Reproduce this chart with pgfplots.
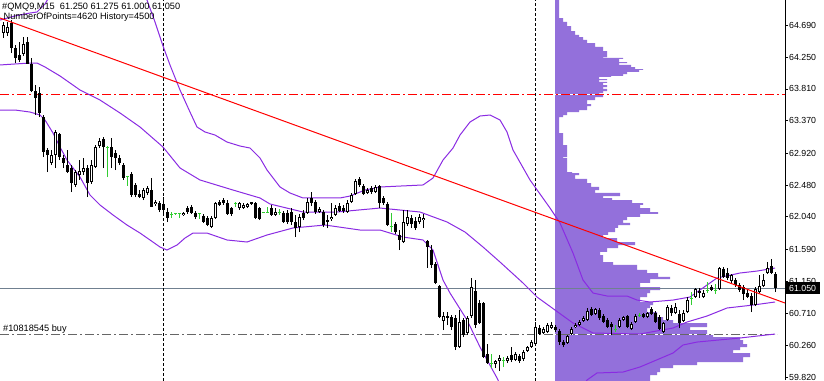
\documentclass[border=0pt]{standalone}
\usepackage{fontspec}
\setmainfont{Liberation Sans}
\usepackage{pgfplots}
\usepackage{pgfplotstable}
\pgfplotsset{compat=1.18}
\definecolor{band}{HTML}{8A2BE2}
\definecolor{prof}{HTML}{9370DB}
\definecolor{doji}{HTML}{32CD32}
\definecolor{slate}{HTML}{708090}

% bullish candles: x open high low close
\pgfplotstableread{
x o h l c
3 64.583 64.735 64.514 64.694
7 64.583 64.735 64.542 64.666
23 64.293 64.528 64.265 64.432
51 62.784 62.965 62.757 62.896
55 62.896 63.241 62.715 63.213
75 62.481 62.688 62.453 62.660
79 62.619 62.826 62.550 62.674
83 62.660 62.854 62.619 62.715
91 62.522 62.826 62.495 62.757
95 62.729 63.034 62.715 63.006
99 63.020 63.130 62.992 63.089
143 62.300 62.439 62.273 62.411
147 62.369 62.467 62.342 62.439
155 62.218 62.273 62.190 62.245
183 62.066 62.107 62.052 62.094
211 61.899 62.052 61.885 62.024
215 62.024 62.245 62.010 62.231
239 62.162 62.245 62.135 62.231
243 62.162 62.231 62.149 62.204
247 62.176 62.231 62.162 62.218
275 62.066 62.162 62.052 62.107
299 61.899 62.080 61.830 62.038
307 62.094 62.300 62.080 62.245
319 62.107 62.176 62.094 62.149
331 62.010 62.231 61.982 62.038
335 62.066 62.204 62.052 62.162
347 62.107 62.273 62.094 62.231
351 62.245 62.369 62.231 62.342
355 62.356 62.564 62.342 62.536
367 62.369 62.439 62.356 62.411
375 62.383 62.481 62.369 62.453
403 61.692 62.135 61.678 61.968
407 61.941 62.135 61.913 62.038
419 61.968 62.080 61.941 62.038
423 61.996 62.080 61.885 62.024
443 60.599 60.723 60.474 60.668
459 60.239 60.751 60.226 60.585
467 60.433 60.668 60.405 60.640
471 60.668 61.194 60.640 61.069
495 60.004 60.059 59.948 60.045
499 60.045 60.128 59.907 60.087
507 60.045 60.115 60.017 60.087
515 60.059 60.170 60.045 60.142
523 60.073 60.198 60.045 60.170
527 60.184 60.253 60.170 60.239
531 60.239 60.336 60.226 60.308
535 60.281 60.585 60.267 60.516
543 60.433 60.516 60.419 60.488
547 60.447 60.571 60.433 60.543
551 60.502 60.585 60.488 60.543
567 60.294 60.405 60.281 60.391
571 60.419 60.516 60.405 60.488
575 60.516 60.571 60.502 60.543
579 60.543 60.613 60.530 60.585
583 60.599 60.668 60.585 60.640
587 60.613 60.778 60.599 60.737
595 60.696 60.778 60.682 60.765
619 60.516 60.640 60.502 60.613
623 60.613 60.668 60.599 60.654
631 60.488 60.585 60.474 60.557
635 60.585 60.696 60.571 60.668
647 60.654 60.723 60.640 60.709
663 60.447 60.585 60.433 60.571
667 60.613 60.820 60.599 60.792
675 60.709 60.848 60.696 60.792
683 60.599 60.751 60.585 60.709
687 60.723 60.931 60.709 60.889
695 60.931 61.056 60.917 61.042
703 60.931 61.028 60.917 60.986
719 61.042 61.346 61.028 61.333
731 61.152 61.249 61.125 61.235
755 60.820 61.069 60.806 61.042
759 61.000 61.235 60.986 61.083
763 61.083 61.249 61.069 61.166
767 61.263 61.415 61.249 61.333
}\bull

% bearish candles: x open high low close
\pgfplotstableread{
x o h l c
11 64.721 64.763 64.306 64.376
15 64.376 64.418 64.168 64.237
19 64.279 64.459 64.182 64.210
27 64.459 64.528 64.155 64.155
31 64.155 64.237 63.767 63.781
35 63.781 63.864 63.449 63.684
39 63.753 63.836 63.421 63.476
43 63.421 63.449 62.868 62.937
47 62.965 62.992 62.660 62.896
59 63.186 63.200 62.826 62.868
63 62.854 62.896 62.715 62.784
67 62.757 62.965 62.646 62.660
71 62.715 62.757 62.383 62.508
87 62.715 62.757 62.314 62.508
103 63.116 63.144 62.715 63.006
111 63.006 63.130 62.715 62.868
115 62.923 62.965 62.688 62.854
119 62.854 62.896 62.757 62.784
123 62.757 62.784 62.550 62.577
131 62.633 62.660 62.314 62.342
135 62.481 62.508 62.314 62.342
139 62.356 62.411 62.300 62.314
151 62.411 62.577 62.176 62.176
159 62.231 62.259 62.107 62.135
163 62.218 62.314 62.080 62.135
167 62.107 62.162 61.968 62.024
187 62.162 62.190 62.080 62.107
191 62.176 62.204 62.080 62.094
195 62.094 62.121 62.010 62.038
203 62.052 62.080 61.954 61.968
207 62.024 62.052 61.913 61.927
219 62.245 62.273 62.190 62.204
223 62.273 62.300 62.204 62.231
227 62.231 62.273 62.066 62.080
231 62.162 62.176 62.052 62.080
251 62.245 62.245 62.204 62.218
255 62.231 62.245 62.010 62.024
259 62.162 62.176 61.996 62.010
271 62.162 62.204 62.052 62.066
283 62.094 62.121 61.954 61.968
287 62.094 62.135 61.941 61.968
291 62.107 62.162 61.927 61.968
295 61.968 62.066 61.761 61.885
303 62.094 62.135 61.996 62.024
311 62.300 62.383 62.190 62.231
315 62.245 62.273 62.080 62.107
323 62.107 62.135 61.899 61.927
327 61.996 62.066 61.885 61.968
339 62.190 62.231 62.107 62.121
343 62.162 62.204 62.094 62.121
359 62.564 62.591 62.453 62.481
363 62.467 62.495 62.342 62.356
371 62.439 62.467 62.356 62.383
379 62.467 62.481 62.162 62.231
383 62.300 62.328 62.204 62.231
387 62.218 62.245 61.913 61.927
395 61.941 61.968 61.802 61.830
399 61.789 61.858 61.581 61.720
411 62.024 62.066 61.885 61.941
415 61.982 62.038 61.858 61.885
427 61.706 61.720 61.333 61.623
431 61.581 61.651 61.333 61.374
435 61.388 61.415 61.111 61.125
439 61.083 61.097 60.640 60.654
447 60.668 60.723 60.543 60.640
451 60.654 60.682 60.474 60.516
455 60.640 60.682 60.198 60.239
463 60.613 60.640 60.377 60.405
475 61.014 61.166 60.502 60.543
479 60.848 60.889 60.557 60.571
483 60.848 60.862 60.087 60.101
487 60.142 60.281 60.004 60.018
511 60.128 60.239 60.031 60.059
519 60.115 60.142 60.017 60.045
539 60.502 60.543 60.405 60.419
555 60.516 60.543 60.447 60.474
559 60.460 60.488 60.267 60.308
563 60.308 60.336 60.239 60.267
591 60.765 60.792 60.668 60.682
599 60.751 60.778 60.613 60.640
603 60.668 60.696 60.571 60.585
607 60.613 60.640 60.502 60.516
611 60.557 60.585 60.405 60.516
627 60.668 60.682 60.502 60.516
643 60.696 60.709 60.640 60.654
651 60.765 60.792 60.682 60.696
655 60.709 60.737 60.571 60.585
659 60.654 60.682 60.474 60.488
671 60.778 60.820 60.668 60.709
679 60.696 60.751 60.502 60.571
699 61.014 61.056 60.917 60.986
711 61.069 61.097 61.014 61.028
723 61.319 61.346 61.194 61.208
727 61.263 61.333 61.166 61.194
735 61.166 61.194 61.069 61.097
739 61.097 61.125 61.000 61.028
743 61.069 61.097 60.889 60.972
747 60.986 61.028 60.917 60.931
751 60.945 60.986 60.723 60.820
771 61.360 61.457 61.249 61.263
775 61.250 61.275 61.000 61.050
}\bear

% doji candles (open = close): x open high low close
\pgfplotstableread{
x o h l c
107 63.006 63.020 62.591 63.006
127 62.605 62.605 62.467 62.605
171 62.066 62.107 62.024 62.066
175 62.080 62.080 62.066 62.080
179 62.080 62.080 62.024 62.080
199 62.080 62.080 62.010 62.080
235 62.218 62.245 62.176 62.218
263 62.094 62.107 62.094 62.094
267 62.094 62.176 62.094 62.094
279 62.107 62.149 62.066 62.107
391 61.913 62.094 61.830 61.913
491 60.017 60.142 59.948 60.017
503 60.059 60.101 59.962 60.059
615 60.488 60.543 60.447 60.488
639 60.682 60.709 60.654 60.682
691 60.917 61.000 60.820 60.917
707 61.028 61.139 60.986 61.028
715 61.028 61.111 60.972 61.028
}\doji

% volume profile outline (x = right edge of row, y = price)
\pgfplotstableread{
x y
555 65.05
559 65.05
559 64.789
563 64.789
563 64.736
567 64.736
567 64.680
571 64.680
571 64.611
575 64.611
575 64.556
579 64.556
579 64.528
583 64.528
583 64.487
587 64.487
587 64.445
595 64.445
595 64.390
603 64.390
603 64.334
607 64.334
607 64.251
603 64.251
603 64.238
623 64.238
623 64.224
619 64.224
619 64.182
627 64.182
627 64.168
619 64.168
619 64.141
631 64.141
631 64.113
635 64.113
635 64.085
643 64.085
643 64.072
639 64.072
639 64.044
627 64.044
627 64.016
623 64.016
623 63.989
611 63.989
611 63.975
599 63.975
599 63.947
607 63.947
607 63.933
599 63.933
599 63.906
607 63.906
607 63.892
603 63.892
603 63.864
607 63.864
607 63.836
603 63.836
603 63.809
607 63.809
607 63.781
603 63.781
603 63.753
599 63.753
599 63.726
603 63.726
603 63.698
595 63.698
595 63.656
587 63.656
587 63.601
591 63.601
591 63.573
587 63.573
587 63.518
579 63.518
579 63.490
567 63.490
567 63.449
563 63.449
563 63.421
559 63.421
559 63.200
563 63.200
563 63.034
567 63.034
567 62.868
563 62.868
563 62.854
567 62.854
567 62.660
572 62.660
572 62.646
579 62.646
579 62.619
575 62.619
575 62.564
587 62.564
587 62.508
591 62.508
591 62.453
599 62.453
599 62.411
595 62.411
595 62.370
620 62.370
620 62.328
603 62.328
603 62.300
612 62.300
612 62.273
632 62.273
632 62.231
643 62.231
643 62.204
640 62.204
640 62.162
650 62.162
650 62.107
658 62.107
658 62.080
640 62.080
640 62.038
627 62.038
627 61.996
623 61.996
623 61.955
630 61.955
630 61.927
618 61.927
618 61.886
615 61.886
615 61.830
608 61.830
608 61.789
603 61.789
603 61.747
617 61.747
617 61.692
635 61.692
635 61.650
618 61.650
618 61.609
607 61.609
607 61.554
600 61.554
600 61.512
603 61.512
603 61.415
613 61.415
613 61.374
637 61.374
637 61.305
647 61.305
647 61.263
658 61.263
658 61.208
670 61.208
670 61.180
650 61.180
650 61.125
640 61.125
640 61.069
660 61.069
660 61.028
650 61.028
650 60.986
647 60.986
647 60.931
640 60.931
640 60.862
653 60.862
653 60.820
650 60.820
650 60.779
647 60.779
647 60.723
657 60.723
657 60.654
663 60.654
663 60.613
673 60.613
673 60.571
707 60.571
707 60.516
690 60.516
690 60.474
707 60.474
707 60.419
713 60.419
713 60.377
740 60.377
740 60.336
743 60.336
743 60.281
747 60.281
747 60.239
740 60.239
740 60.198
733 60.198
733 60.156
750 60.156
750 60.101
743 60.101
743 60.032
697 60.032
697 59.990
673 59.990
673 59.949
660 59.949
660 59.893
657 59.893
657 59.852
650 59.852
650 59.77
555 59.77
}\profile

\newcommand{\mtfont}{\fontsize{9.2}{11}\selectfont}

\begin{document}
\begin{tikzpicture}
\useasboundingbox (0,0) rectangle (824pt,380pt);
\begin{axis}[
  at={(0pt,0pt)}, anchor=south west,
  scale only axis, width=785pt, height=380pt,
  xmin=0, xmax=785, ymin=59.783, ymax=65.04,
  axis x line=none,
  axis y line=right,
  y axis line style={-, black, line width=1pt},
  ytick={64.69,64.25,63.81,63.37,62.92,62.48,62.04,61.59,61.15,60.71,60.26,59.82},
  yticklabels={64.690,64.250,63.810,63.370,62.920,62.480,62.040,61.590,61.150,60.710,60.260,59.820},
  tick align=outside,
  major tick length=3pt,
  ytick style={black, line width=0.8pt},
  yticklabel style={font=\fontsize{8.8}{10}\selectfont, anchor=west, inner sep=0pt, xshift=1pt},
  clip mode=individual,
]
% volume profile
\addplot[fill=prof, draw=none] table[x=x,y=y] {\profile};

% white underlays for dashed lines
\addplot[white, line width=1pt] coordinates {(0,63.735) (785,63.735)};
\addplot[white, line width=1pt] coordinates {(0,60.415) (777,60.415)};
% horizontal lines
\addplot[slate, line width=1pt] coordinates {(0,61.05) (785,61.05)};
\addplot[red, line width=1pt, dash pattern=on 9pt off 3pt on 2pt off 3pt] coordinates {(0,63.735) (785,63.735)};
\addplot[black!60, line width=1pt, dash pattern=on 9pt off 3pt on 2pt off 3pt] coordinates {(0,60.415) (777,60.415)};
% vertical separators
\addplot[black, line width=1pt, dash pattern=on 3pt off 2pt] coordinates {(163.5,59.7) (163.5,65.1)};
\addplot[black, line width=1pt, dash pattern=on 3pt off 2pt] coordinates {(535.5,59.7) (535.5,65.1)};

% Bollinger bands
\addplot[band, line width=1pt] coordinates {
(0,64.763) (15,64.819) (30,64.860) (37,64.874) (45,64.985) (52,65.151) (60,65.317)
(100,65.455) (135,65.386) (147,65.040) (155,64.736) (163,64.404) (170,64.141)
(180,63.795) (190,63.490) (197,63.283) (205,63.214) (215,63.172) (227,63.075)
(240,63.020) (250,62.992) (260,62.854) (267,62.688) (280,62.453) (290,62.370)
(303,62.301) (340,62.301) (350,62.328) (365,62.411) (380,62.453) (423,62.481)
(433,62.577) (443,62.826) (453,62.992) (460,63.172) (470,63.352) (480,63.435)
(490,63.449) (500,63.380) (507,63.214) (513,62.965) (530,62.550) (550,62.162)
(560,61.955) (573,61.540) (583,61.166) (593,60.986) (607,60.945) (627,60.945)
(637,60.889) (650,60.862) (673,60.889) (690,60.931) (717,61.194) (740,61.263)
(757,61.290) (775,61.332)};
\addplot[band, line width=1pt] coordinates {
(0,64.141) (15,64.155) (30,64.168) (37,64.168) (45,64.113) (60,63.989) (80,63.795)
(100,63.656) (120,63.477) (140,63.283) (163,63.006) (180,62.716) (200,62.550)
(233,62.411) (260,62.301) (270,62.218) (303,62.107) (337,62.107) (380,62.162)
(420,62.107) (447,61.969) (465,61.830) (483,61.623) (500,61.415) (523,61.125)
(537,60.931) (555,60.751) (573,60.571) (593,60.433) (640,60.419) (673,60.502)
(687,60.585) (707,60.668) (727,60.779) (753,60.820) (775,60.862)};
\addplot[band, line width=1pt] coordinates {
(0,63.518) (15,63.518) (30,63.490) (40,63.449) (45,63.380) (53,63.200) (60,63.006)
(67,62.826) (80,62.591) (90,62.342) (100,62.204) (113,62.066) (127,61.927)
(140,61.816) (150,61.720) (160,61.623) (167,61.581) (177,61.650) (185,61.747)
(193,61.816) (207,61.816) (227,61.720) (247,61.692) (267,61.789) (293,61.886)
(325,61.927) (360,61.858) (380,61.858) (403,61.761) (423,61.720) (433,61.581)
(443,61.166) (450,60.986) (467,60.613) (480,60.239) (497,59.811) (505,59.575)
(580,59.575) (587,59.783) (597,59.880) (623,59.893) (640,59.963) (673,60.156)
(683,60.267) (697,60.308) (740,60.364) (775,60.419)};

% candles: wicks
\addplot[black, line width=1pt, quiver={u=0, v={\thisrow{h}-\thisrow{l}}}] table[x=x,y=l] {\bear};
\addplot[black, line width=1pt, quiver={u=0, v={\thisrow{h}-\thisrow{l}}}] table[x=x,y=l] {\bull};
\addplot[doji, line width=1pt, quiver={u=0, v={\thisrow{h}-\thisrow{l}}}] table[x=x,y=l] {\doji};
% bodies
\addplot[black, line width=3pt, quiver={u=0, v={\thisrow{c}-\thisrow{o}}}] table[x=x,y=o] {\bear};
\addplot[black, line width=3pt, quiver={u=0, v={\thisrow{c}-\thisrow{o}}}] table[x=x,y=o] {\bull};
\addplot[white, line width=1pt, quiver={u=0, v={\thisrow{c}-\thisrow{o}-0.0277}}] table[x=x,y expr=\thisrow{o}+0.0138] {\bull};
\addplot[doji, only marks, mark=-, mark size=1.5pt, mark options={line width=1pt}] table[x=x,y=o] {\doji};

% trend line
\addplot[red, line width=1pt] coordinates {(0,64.791) (785,60.848)};

% texts
\node[anchor=base west, inner sep=0pt, font=\mtfont] at ([xshift=2pt,yshift=-10pt]rel axis cs:0,1) {\#QMQ9,M15\ \ 61.250 61.275 61.000 61.050};
\node[anchor=base west, inner sep=0pt, font=\mtfont] at ([xshift=3.5pt,yshift=-20pt]rel axis cs:0,1) {NumberOfPoints=4620 History=4500};
\node[anchor=base west, inner sep=0pt, font=\mtfont] at ([xshift=3pt,yshift=3pt]axis cs:0,60.415) {\#10818545 buy};
\node[fill=black, text=white, anchor=west, inner xsep=3.5pt, inner ysep=0pt, minimum height=12pt, font=\fontsize{8.8}{10}\selectfont] at (axis cs:785.5,61.05) {61.050};
\end{axis}
\end{tikzpicture}
\end{document}
